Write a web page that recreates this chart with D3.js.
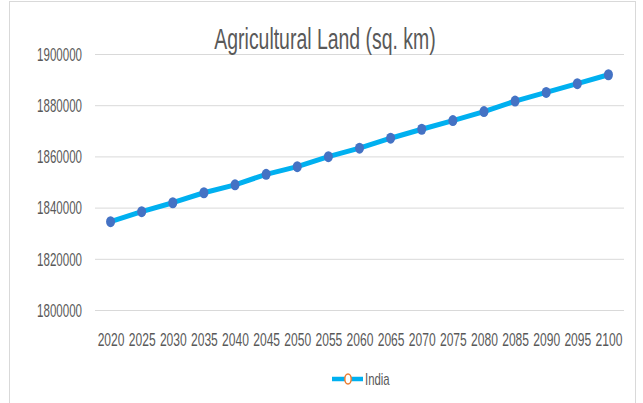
<!DOCTYPE html>
<html lang="en">
<head>
<meta charset="UTF-8">
<title>Agricultural Land (sq. km)</title>
<script src="https://d3js.org/d3.v7.min.js"></script>
<style>
    body { margin: 0; background: #fff; }
    svg { display: block; font-family: "Liberation Sans", Arial, sans-serif; }
    .tick text { fill: #595959; }
</style>
</head>
<body>
<svg width="643" height="403"></svg>
<script>
    // data
    const years = [2020, 2025, 2030, 2035, 2040, 2045, 2050, 2055, 2060,
                   2065, 2070, 2075, 2080, 2085, 2090, 2095, 2100];
    const india = [1834500, 1838400, 1841900, 1845800, 1848900, 1853000, 1856000, 1859900, 1863200,
                   1867100, 1870600, 1874000, 1877500, 1881600, 1885000, 1888400, 1891900];
    const yTicks = [1800000, 1820000, 1840000, 1860000, 1880000, 1900000];
    const seriesName = "India";
    const chartTitle = "Agricultural Land (sq. km)";

    // the source picture is squeezed horizontally, so text is narrowed too
    const squeeze = 0.66;
    const plot = { left: 95, right: 624, top: 54, bottom: 310 };

    const svg = d3.select("svg");

    // outer chart border
    svg.append("rect")
        .attr("x", 9.5).attr("y", 1.5)
        .attr("width", 626).attr("height", 420)
        .attr("fill", "none")
        .attr("stroke", "#d9d9d9");

    const x = d3.scalePoint()
        .domain(years)
        .range([plot.left, plot.right])
        .padding(0.5);

    const y = d3.scaleLinear()
        .domain([1800000, 1900000])
        .range([plot.bottom, plot.top]);

    // y axis + gridlines
    const yAxis = svg.append("g")
        .attr("transform", `translate(${plot.left},0)`)
        .call(d3.axisLeft(y).tickValues(yTicks).tickFormat(d3.format("d"))
            .tickSize(-(plot.right - plot.left)).tickPadding(13));
    yAxis.select(".domain").remove();
    yAxis.selectAll(".tick line").attr("stroke", "#d9d9d9");
    yAxis.selectAll(".tick text")
        .attr("font-size", 17.5)
        .attr("x", -13 / squeeze)
        .attr("dy", "0.36em")
        .attr("transform", `scale(${squeeze},1)`);

    // x axis labels
    const xAxis = svg.append("g")
        .attr("transform", `translate(0,${plot.bottom})`)
        .call(d3.axisBottom(x).tickSize(0));
    xAxis.select(".domain").remove();
    xAxis.selectAll(".tick text")
        .attr("font-size", 17.5)
        .attr("y", 36)
        .attr("dy", null)
        .attr("transform", `scale(0.69,1)`);

    // title
    svg.append("text")
        .attr("transform", `translate(325,49) scale(0.67,1)`)
        .attr("text-anchor", "middle")
        .attr("font-size", 29)
        .attr("fill", "#595959")
        .text(chartTitle);

    // series line
    const line = d3.line()
        .x((d, i) => x(years[i]))
        .y(d => y(d));

    svg.append("path")
        .datum(india)
        .attr("fill", "none")
        .attr("stroke", "#00b0f0")
        .attr("stroke-width", 5)
        .attr("stroke-linejoin", "round")
        .attr("d", line);

    svg.selectAll(".marker")
        .data(india)
        .join("ellipse")
        .attr("class", "marker")
        .attr("cx", (d, i) => x(years[i]))
        .attr("cy", d => y(d))
        .attr("rx", 4.5)
        .attr("ry", 5.5)
        .attr("fill", "#4472c4");

    // legend
    const legend = svg.append("g").attr("transform", "translate(332,379)");
    legend.append("line")
        .attr("x1", 0).attr("x2", 31)
        .attr("stroke", "#00b0f0")
        .attr("stroke-width", 4.5);
    legend.append("ellipse")
        .attr("cx", 16).attr("rx", 3.2).attr("ry", 5)
        .attr("fill", "#fff")
        .attr("stroke", "#ed7d31")
        .attr("stroke-width", 1.5);
    legend.append("text")
        .attr("transform", "translate(33,5.5) scale(0.72,1)")
        .attr("font-size", 15.8)
        .attr("fill", "#595959")
        .text(seriesName);
</script>
</body>
</html>
